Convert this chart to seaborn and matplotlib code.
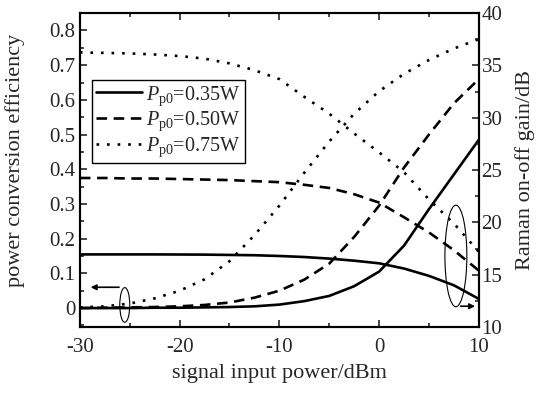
import numpy as np
import pandas as pd
import seaborn as sns
import matplotlib
matplotlib.use("Agg")
import matplotlib.pyplot as plt
from matplotlib.patches import Ellipse
from matplotlib.ticker import MultipleLocator

sns.set_style("ticks")
plt.rcParams['font.family'] = ['Liberation Serif', 'DejaVu Serif']
plt.rcParams['mathtext.fontset'] = 'custom'
plt.rcParams['mathtext.rm'] = 'Liberation Serif'
plt.rcParams['mathtext.it'] = 'Liberation Serif:italic'
plt.rcParams['axes.unicode_minus'] = False

# signal input power (dBm)
signal_dbm = [-30, -27.5, -25, -22.5, -20, -17.5, -15, -12.5, -10,
              -7.5, -5, -2.5, 0, 2.5, 5, 7.5, 10]

# power conversion efficiency (left axis)
eff_035 = [0.000, 0.000, 0.000, 0.001, 0.001, 0.002, 0.003, 0.005, 0.010,
           0.020, 0.035, 0.063, 0.105, 0.180, 0.285, 0.385, 0.485]
eff_050 = [0.000, 0.001, 0.002, 0.003, 0.005, 0.009, 0.016, 0.030, 0.050,
           0.082, 0.128, 0.205, 0.295, 0.405, 0.500, 0.590, 0.660]
eff_075 = [0.002, 0.005, 0.013, 0.028, 0.050, 0.083, 0.135, 0.210, 0.295,
           0.390, 0.480, 0.560, 0.625, 0.675, 0.715, 0.748, 0.775]

# Raman on-off gain in dB (right axis)
gain_035 = [16.95, 16.95, 16.95, 16.95, 16.94, 16.93, 16.90, 16.87, 16.80,
            16.70, 16.55, 16.35, 16.10, 15.60, 14.90, 14.00, 12.70]
gain_050 = [24.25, 24.25, 24.20, 24.20, 24.15, 24.10, 24.05, 23.95, 23.85,
            23.60, 23.30, 22.70, 21.90, 20.50, 19.05, 17.35, 15.40]
gain_075 = [36.25, 36.20, 36.15, 36.05, 35.90, 35.65, 35.20, 34.55, 33.70,
            32.00, 30.40, 28.50, 26.70, 24.80, 22.20, 19.90, 17.20]

labels = [r'$P_{\rm p0}$=0.35W', r'$P_{\rm p0}$=0.50W', r'$P_{\rm p0}$=0.75W']
styles = ['-', (0, (4, 2.5)), (0, (1, 3))]

fig = plt.figure(figsize=(5.51, 3.98), dpi=100)
ax = fig.add_axes([0.145, 0.178, 0.724, 0.789])
ax2 = ax.twinx()

effs = [eff_035, eff_050, eff_075]
gains = [gain_035, gain_050, gain_075]
for lab, ls, e, g in zip(labels, styles, effs, gains):
    df = pd.DataFrame({'P': signal_dbm, 'eff': e, 'gain': g})
    sns.lineplot(data=df, x='P', y='eff', ax=ax, color='black', lw=1.9,
                 linestyle=ls, label=lab)
    sns.lineplot(data=df, x='P', y='gain', ax=ax2, color='black', lw=1.9,
                 linestyle=ls, legend=False)

ax.set_xlim(-30, 10)
ax.set_ylim(-0.055, 0.85)
ax2.set_ylim(10, 40)
ax.xaxis.set_major_locator(MultipleLocator(10))
ax.xaxis.set_minor_locator(MultipleLocator(5))
ax.yaxis.set_major_locator(MultipleLocator(0.1))
ax.yaxis.set_minor_locator(MultipleLocator(0.05))
ax2.yaxis.set_major_locator(MultipleLocator(5))
ax2.yaxis.set_minor_locator(MultipleLocator(2.5))
ax.set_yticks(np.arange(0, 0.81, 0.1))
ax.set_yticklabels(['0', '0.1', '0.2', '0.3', '0.4', '0.5', '0.6', '0.7', '0.8'])

ax.tick_params(axis='x', which='both', direction='in', top=True, labelsize=15, pad=8)
ax.tick_params(axis='y', which='both', direction='in', labelsize=15, pad=3)
ax2.tick_params(axis='y', which='both', direction='in', labelsize=15, pad=2)
ax.tick_params(which='major', length=5, width=1.2)
ax.tick_params(which='minor', length=3, width=1.2)
ax2.tick_params(which='major', length=5, width=1.2)
ax2.tick_params(which='minor', length=3, width=1.2)
for a in (ax, ax2):
    for s in a.spines.values():
        s.set_linewidth(1.5)
        s.set_color('black')

ax.set_xlabel('signal input power/dBm', fontsize=16, labelpad=5)
ax.set_ylabel('power conversion efficiency', fontsize=16, labelpad=8)
ax.yaxis.set_label_coords(-0.138, 0.53)
ax2.set_ylabel('Raman on-off gain/dB', fontsize=16, labelpad=9)

# annotation ellipses and arrows
ax.add_patch(Ellipse((-25.5, 0.009), 1.0, 0.1, fill=False, lw=0.8, color='black'))
ax.annotate('', xy=(-29.2, 0.06), xytext=(-25.8, 0.06),
            arrowprops=dict(arrowstyle='-|>', color='black', lw=1.2, mutation_scale=8))
ax2.add_patch(Ellipse((7.7, 16.8), 2.2, 9.7, fill=False, lw=0.8, color='black'))
ax2.annotate('', xy=(9.9, 12.0), xytext=(7.9, 12.0),
             arrowprops=dict(arrowstyle='-|>', color='black', lw=1.2, mutation_scale=8))

leg = ax.legend(loc='upper left', bbox_to_anchor=(0.03, 0.787), borderaxespad=0,
                fontsize=14.5, frameon=True, fancybox=False, handlelength=2.3,
                handletextpad=0.2, labelspacing=0.1, borderpad=0.2)
leg.get_frame().set_edgecolor('black')
leg.get_frame().set_linewidth(1.0)
leg.get_frame().set_alpha(1)

fig.savefig('out.png', dpi=100)
